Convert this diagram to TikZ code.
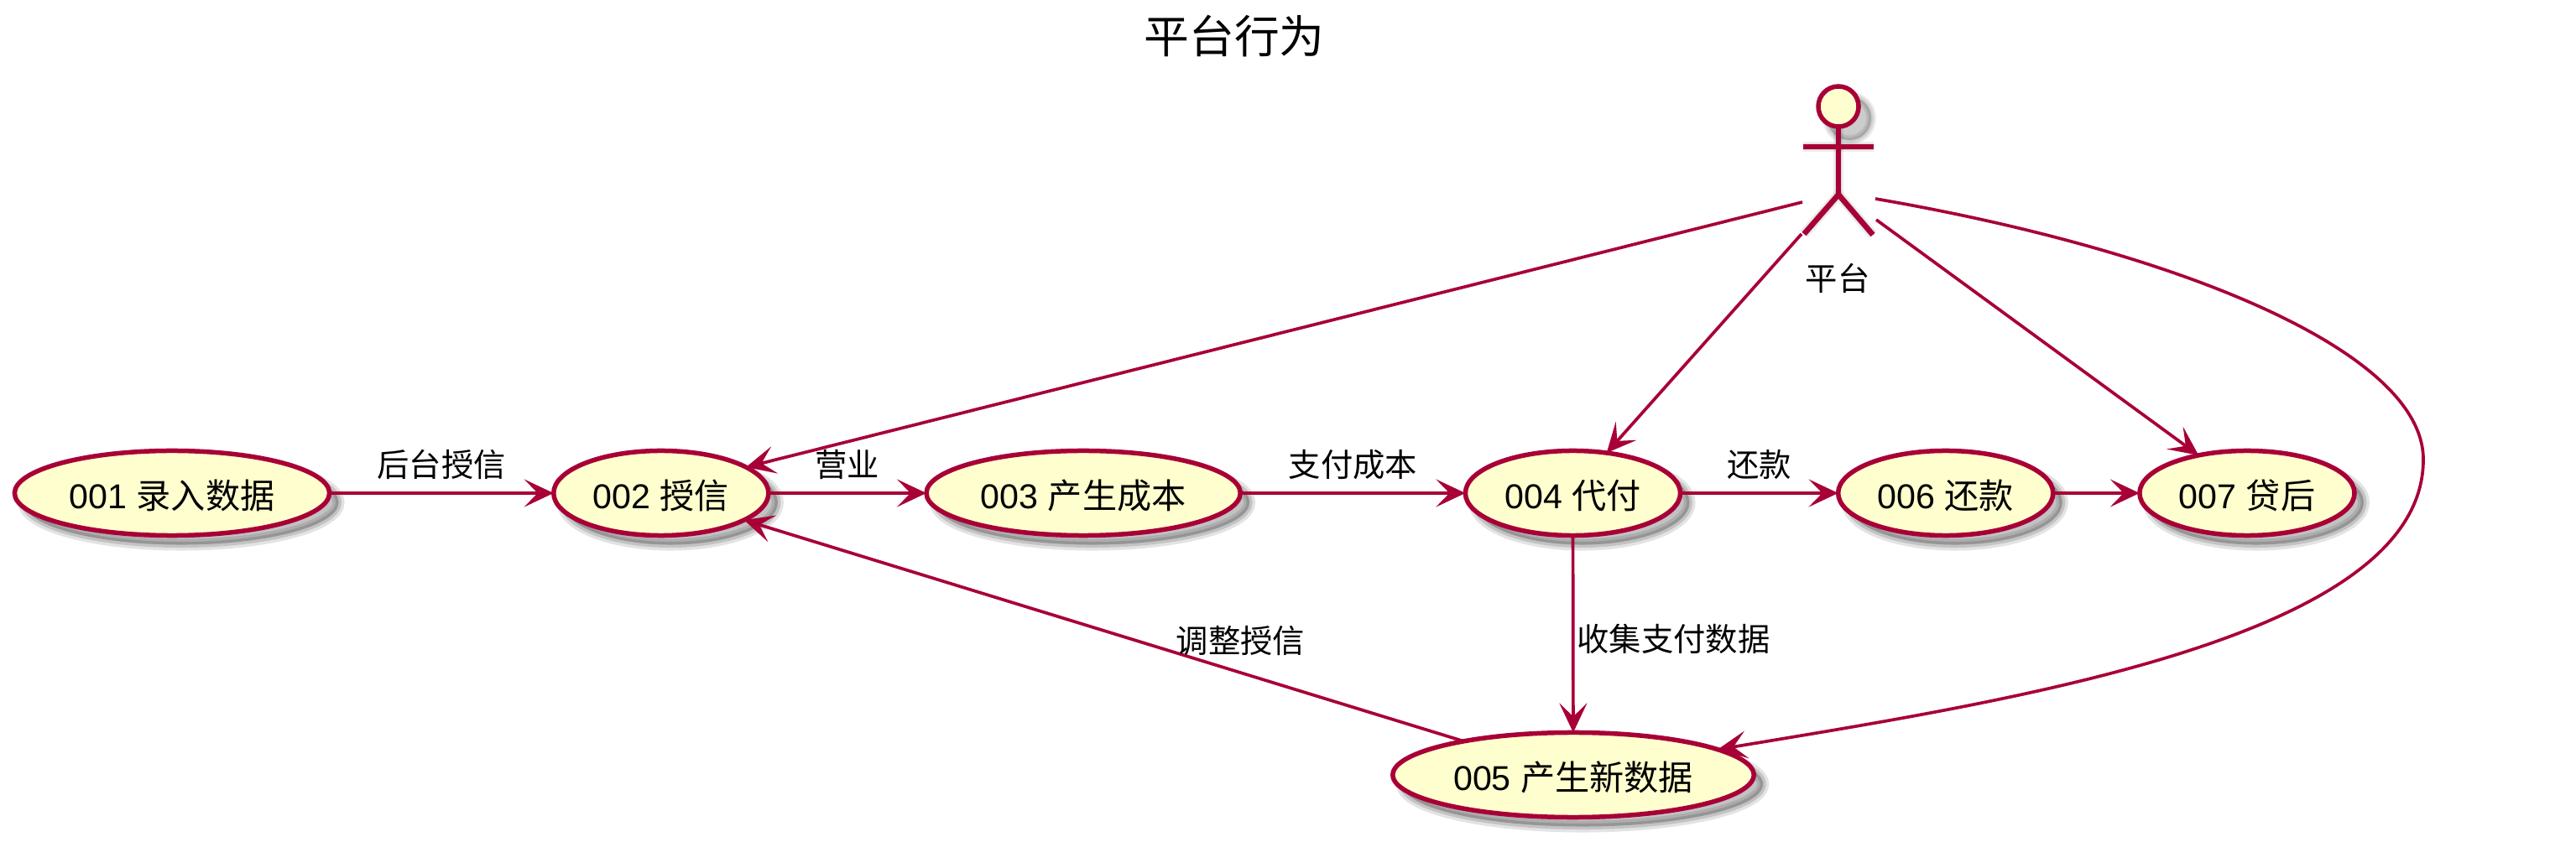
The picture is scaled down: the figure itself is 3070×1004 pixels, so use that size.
\documentclass[tikz,border=0pt]{standalone}
\usepackage{xcolor}
\usepackage{fontspec}
\usepackage{tikz}
\usetikzlibrary{shapes.geometric, arrows.meta, positioning}
\setmainfont{Liberation Sans}
\newfontfamily\cjk{Noto Sans CJK SC}
\definecolor{UmlRed}{HTML}{A80036}
\definecolor{UmlFill}{HTML}{FEFECE}

\begin{document}
\begin{tikzpicture}[
    x=0.01cm, y=-0.01cm,
    usecase/.style={ellipse, inner sep=0pt, outer sep=0pt, minimum height=1.01cm, draw=UmlRed, fill=UmlFill,
                    line width=0.055cm, text height=0.42cm, text depth=0.05cm, font=\fontsize{11.7pt}{14pt}\selectfont,
                    preaction={fill=black, draw=none, opacity=.24, transform canvas={xshift=0.11cm, yshift=-0.11cm}},
                    preaction={draw=black, fill=none, line width=0.14cm, opacity=.11, transform canvas={xshift=0.11cm, yshift=-0.11cm}},
                    preaction={draw=black, fill=none, line width=0.07cm, opacity=.14, transform canvas={xshift=0.11cm, yshift=-0.11cm}}},
    flow/.style={-{Stealth[length=0.35cm, width=0.33cm, inset=0.16cm]}, line width=0.037cm, color=UmlRed},
    flowlabel/.style={inner sep=0pt, font=\fontsize{10.9pt}{13pt}\selectfont\cjk, color=black},
    actorline/.style={line width=0.055cm, color=UmlRed},
    actorshadow/.style={color=black, opacity=.07}
]
\useasboundingbox (0,0) rectangle (3070,1004);

\node[font=\fontsize{15.3pt}{18pt}\selectfont\cjk] (title) at (1471,43) {平台行为};

\node[usecase, minimum width=3.75cm] (s001) at (205,588) {001 {\cjk 录入数据}};
\node[usecase, minimum width=2.56cm, right=2.67cm of s001] (s002) {002 {\cjk 授信}};
\node[usecase, minimum width=3.74cm, right=1.88cm of s002] (s003) {003 {\cjk 产生成本}};
\node[usecase, minimum width=2.56cm, right=2.68cm of s003] (s004) {004 {\cjk 代付}};
\node[usecase, minimum width=4.30cm] (s005) at (1875,924) {005 {\cjk 产生新数据}};
\node[usecase, minimum width=2.56cm, right=1.88cm of s004] (s006) {006 {\cjk 还款}};
\node[usecase, minimum width=2.56cm, right=1.03cm of s006] (s007) {007 {\cjk 贷后}};

\coordinate (neck) at (2191,153);
\coordinate (hip) at (2191,232);
\coordinate (armL) at (2149,175);
\coordinate (armR) at (2233,175);
\coordinate (legL) at (2150,279);
\coordinate (legR) at (2232,280);

\foreach \w in {0.04,0.08,0.12} {
    \begin{scope}[shift={(13,14)}]
        \fill[actorshadow] (2191,127) circle[radius=26];
        \draw[actorshadow, line width=\w cm] (2191,127) circle[radius=26];
        \draw[actorshadow, line width=\w cm] (neck) -- (hip);
        \draw[actorshadow, line width=\w cm] (armL) -- (armR);
        \draw[actorshadow, line width=\w cm] (legL) -- (hip) -- (legR);
    \end{scope}
}
\draw[actorline] (neck) -- (hip);
\draw[actorline, line width=0.065cm] (armL) -- (armR);
\draw[actorline, line width=0.065cm] (legL) -- (hip) -- (legR);
\node[circle, inner sep=0pt, minimum size=0.48cm, draw=UmlRed, fill=UmlFill, line width=0.055cm] (head) at (2191,127) {};
\node[flowlabel] (actor) at (2190,332) {平台};

\coordinate (p002) at (2148,241);
\coordinate (p004) at (2147,279);
\coordinate (p005) at (2235,237);
\coordinate (p007) at (2236,262);

\draw[flow] (s001) -- node[flowlabel, above=0.14cm] {后台授信} (s002);
\draw[flow] (s002) -- node[flowlabel, above=0.14cm] {营业} (s003);
\draw[flow] (s003) -- node[flowlabel, above=0.14cm] {支付成本} (s004);
\draw[flow] (s004) -- node[flowlabel, above=0.14cm] {还款} (s006);
\draw[flow] (s006) -- (s007);
\draw[flow] (s004) -- node[flowlabel, right=0.03cm, yshift=-0.06cm] {收集支付数据} (s005);
\draw[flow] (s005) -- node[flowlabel, pos=0.31, above=0.19cm] {调整授信} (s002.-18);

\draw[flow] (p002) -- (s002.17);
\draw[flow] (p004) -- (s004.50);
\draw[flow] (p007) -- (s007.142);
\draw[flow] (p005) .. controls (2600,300) and (2888,420) .. (2888,548) .. controls (2888,760) and (2400,835) .. (s005.10);

\end{tikzpicture}
\end{document}
